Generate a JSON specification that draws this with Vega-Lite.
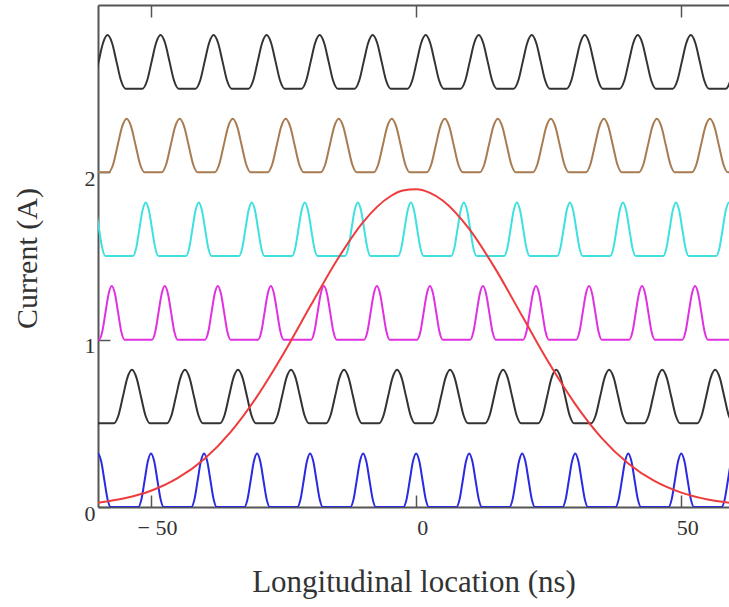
{
"$schema":"https://vega.github.io/schema/vega-lite/v6.json",
"width":631,"height":502,
"autosize":{"type":"none"},
"padding":{"left":98,"top":5,"right":0,"bottom":100},
"background":"white",
"config":{"view":{"stroke":null},"axis":{"labelFont":"Liberation Serif","titleFont":"Liberation Serif","grid":false,"labelColor":"#333","titleColor":"#333","domainColor":"#555","domainWidth":2,"tickColor":"#555","tickWidth":1.5}},
"data":{"values":[
{"s":"b","x":-62.4,"y":0},{"s":"b","x":-61.8,"y":0.047},{"s":"b","x":-61.2,"y":0.16},{"s":"b","x":-60.6,"y":0.273},{"s":"b","x":-60,"y":0.32},{"s":"b","x":-59.4,"y":0.273},{"s":"b","x":-58.8,"y":0.16},{"s":"b","x":-58.2,"y":0.047},{"s":"b","x":-57.6,"y":0},
{"s":"b","x":-52.4,"y":0},{"s":"b","x":-51.8,"y":0.047},{"s":"b","x":-51.2,"y":0.16},{"s":"b","x":-50.6,"y":0.273},{"s":"b","x":-50,"y":0.32},{"s":"b","x":-49.4,"y":0.273},{"s":"b","x":-48.8,"y":0.16},{"s":"b","x":-48.2,"y":0.047},{"s":"b","x":-47.6,"y":0},
{"s":"b","x":-42.4,"y":0},{"s":"b","x":-41.8,"y":0.047},{"s":"b","x":-41.2,"y":0.16},{"s":"b","x":-40.6,"y":0.273},{"s":"b","x":-40,"y":0.32},{"s":"b","x":-39.4,"y":0.273},{"s":"b","x":-38.8,"y":0.16},{"s":"b","x":-38.2,"y":0.047},{"s":"b","x":-37.6,"y":0},
{"s":"b","x":-32.4,"y":0},{"s":"b","x":-31.8,"y":0.047},{"s":"b","x":-31.2,"y":0.16},{"s":"b","x":-30.6,"y":0.273},{"s":"b","x":-30,"y":0.32},{"s":"b","x":-29.4,"y":0.273},{"s":"b","x":-28.8,"y":0.16},{"s":"b","x":-28.2,"y":0.047},{"s":"b","x":-27.6,"y":0},
{"s":"b","x":-22.4,"y":0},{"s":"b","x":-21.8,"y":0.047},{"s":"b","x":-21.2,"y":0.16},{"s":"b","x":-20.6,"y":0.273},{"s":"b","x":-20,"y":0.32},{"s":"b","x":-19.4,"y":0.273},{"s":"b","x":-18.8,"y":0.16},{"s":"b","x":-18.2,"y":0.047},{"s":"b","x":-17.6,"y":0},
{"s":"b","x":-12.4,"y":0},{"s":"b","x":-11.8,"y":0.047},{"s":"b","x":-11.2,"y":0.16},{"s":"b","x":-10.6,"y":0.273},{"s":"b","x":-10,"y":0.32},{"s":"b","x":-9.4,"y":0.273},{"s":"b","x":-8.8,"y":0.16},{"s":"b","x":-8.2,"y":0.047},{"s":"b","x":-7.6,"y":0},
{"s":"b","x":-2.4,"y":0},{"s":"b","x":-1.8,"y":0.047},{"s":"b","x":-1.2,"y":0.16},{"s":"b","x":-0.6,"y":0.273},{"s":"b","x":0,"y":0.32},{"s":"b","x":0.6,"y":0.273},{"s":"b","x":1.2,"y":0.16},{"s":"b","x":1.8,"y":0.047},{"s":"b","x":2.4,"y":0},
{"s":"b","x":7.6,"y":0},{"s":"b","x":8.2,"y":0.047},{"s":"b","x":8.8,"y":0.16},{"s":"b","x":9.4,"y":0.273},{"s":"b","x":10,"y":0.32},{"s":"b","x":10.6,"y":0.273},{"s":"b","x":11.2,"y":0.16},{"s":"b","x":11.8,"y":0.047},{"s":"b","x":12.4,"y":0},
{"s":"b","x":17.6,"y":0},{"s":"b","x":18.2,"y":0.047},{"s":"b","x":18.8,"y":0.16},{"s":"b","x":19.4,"y":0.273},{"s":"b","x":20,"y":0.32},{"s":"b","x":20.6,"y":0.273},{"s":"b","x":21.2,"y":0.16},{"s":"b","x":21.8,"y":0.047},{"s":"b","x":22.4,"y":0},
{"s":"b","x":27.6,"y":0},{"s":"b","x":28.2,"y":0.047},{"s":"b","x":28.8,"y":0.16},{"s":"b","x":29.4,"y":0.273},{"s":"b","x":30,"y":0.32},{"s":"b","x":30.6,"y":0.273},{"s":"b","x":31.2,"y":0.16},{"s":"b","x":31.8,"y":0.047},{"s":"b","x":32.4,"y":0},
{"s":"b","x":37.6,"y":0},{"s":"b","x":38.2,"y":0.047},{"s":"b","x":38.8,"y":0.16},{"s":"b","x":39.4,"y":0.273},{"s":"b","x":40,"y":0.32},{"s":"b","x":40.6,"y":0.273},{"s":"b","x":41.2,"y":0.16},{"s":"b","x":41.8,"y":0.047},{"s":"b","x":42.4,"y":0},
{"s":"b","x":47.6,"y":0},{"s":"b","x":48.2,"y":0.047},{"s":"b","x":48.8,"y":0.16},{"s":"b","x":49.4,"y":0.273},{"s":"b","x":50,"y":0.32},{"s":"b","x":50.6,"y":0.273},{"s":"b","x":51.2,"y":0.16},{"s":"b","x":51.8,"y":0.047},{"s":"b","x":52.4,"y":0},
{"s":"b","x":57.6,"y":0},{"s":"b","x":58.2,"y":0.047},{"s":"b","x":58.8,"y":0.16},{"s":"b","x":59.4,"y":0.273},{"s":"b","x":60,"y":0.32},{"s":"b","x":60.6,"y":0.273},{"s":"b","x":61.2,"y":0.16},{"s":"b","x":61.8,"y":0.047},{"s":"b","x":62.4,"y":0},

{"s":"k1","x":-60,"y":0.5},
{"s":"k1","x":-57,"y":0.5},{"s":"k1","x":-56.15,"y":0.547},{"s":"k1","x":-55.3,"y":0.66},{"s":"k1","x":-54.45,"y":0.773},{"s":"k1","x":-53.6,"y":0.82},{"s":"k1","x":-52.75,"y":0.773},{"s":"k1","x":-51.9,"y":0.66},{"s":"k1","x":-51.05,"y":0.547},{"s":"k1","x":-50.2,"y":0.5},
{"s":"k1","x":-47,"y":0.5},{"s":"k1","x":-46.15,"y":0.547},{"s":"k1","x":-45.3,"y":0.66},{"s":"k1","x":-44.45,"y":0.773},{"s":"k1","x":-43.6,"y":0.82},{"s":"k1","x":-42.75,"y":0.773},{"s":"k1","x":-41.9,"y":0.66},{"s":"k1","x":-41.05,"y":0.547},{"s":"k1","x":-40.2,"y":0.5},
{"s":"k1","x":-37,"y":0.5},{"s":"k1","x":-36.15,"y":0.547},{"s":"k1","x":-35.3,"y":0.66},{"s":"k1","x":-34.45,"y":0.773},{"s":"k1","x":-33.6,"y":0.82},{"s":"k1","x":-32.75,"y":0.773},{"s":"k1","x":-31.9,"y":0.66},{"s":"k1","x":-31.05,"y":0.547},{"s":"k1","x":-30.2,"y":0.5},
{"s":"k1","x":-27,"y":0.5},{"s":"k1","x":-26.15,"y":0.547},{"s":"k1","x":-25.3,"y":0.66},{"s":"k1","x":-24.45,"y":0.773},{"s":"k1","x":-23.6,"y":0.82},{"s":"k1","x":-22.75,"y":0.773},{"s":"k1","x":-21.9,"y":0.66},{"s":"k1","x":-21.05,"y":0.547},{"s":"k1","x":-20.2,"y":0.5},
{"s":"k1","x":-17,"y":0.5},{"s":"k1","x":-16.15,"y":0.547},{"s":"k1","x":-15.3,"y":0.66},{"s":"k1","x":-14.45,"y":0.773},{"s":"k1","x":-13.6,"y":0.82},{"s":"k1","x":-12.75,"y":0.773},{"s":"k1","x":-11.9,"y":0.66},{"s":"k1","x":-11.05,"y":0.547},{"s":"k1","x":-10.2,"y":0.5},
{"s":"k1","x":-7,"y":0.5},{"s":"k1","x":-6.15,"y":0.547},{"s":"k1","x":-5.3,"y":0.66},{"s":"k1","x":-4.45,"y":0.773},{"s":"k1","x":-3.6,"y":0.82},{"s":"k1","x":-2.75,"y":0.773},{"s":"k1","x":-1.9,"y":0.66},{"s":"k1","x":-1.05,"y":0.547},{"s":"k1","x":-0.2,"y":0.5},
{"s":"k1","x":3,"y":0.5},{"s":"k1","x":3.85,"y":0.547},{"s":"k1","x":4.7,"y":0.66},{"s":"k1","x":5.55,"y":0.773},{"s":"k1","x":6.4,"y":0.82},{"s":"k1","x":7.25,"y":0.773},{"s":"k1","x":8.1,"y":0.66},{"s":"k1","x":8.95,"y":0.547},{"s":"k1","x":9.8,"y":0.5},
{"s":"k1","x":13,"y":0.5},{"s":"k1","x":13.85,"y":0.547},{"s":"k1","x":14.7,"y":0.66},{"s":"k1","x":15.55,"y":0.773},{"s":"k1","x":16.4,"y":0.82},{"s":"k1","x":17.25,"y":0.773},{"s":"k1","x":18.1,"y":0.66},{"s":"k1","x":18.95,"y":0.547},{"s":"k1","x":19.8,"y":0.5},
{"s":"k1","x":23,"y":0.5},{"s":"k1","x":23.85,"y":0.547},{"s":"k1","x":24.7,"y":0.66},{"s":"k1","x":25.55,"y":0.773},{"s":"k1","x":26.4,"y":0.82},{"s":"k1","x":27.25,"y":0.773},{"s":"k1","x":28.1,"y":0.66},{"s":"k1","x":28.95,"y":0.547},{"s":"k1","x":29.8,"y":0.5},
{"s":"k1","x":33,"y":0.5},{"s":"k1","x":33.85,"y":0.547},{"s":"k1","x":34.7,"y":0.66},{"s":"k1","x":35.55,"y":0.773},{"s":"k1","x":36.4,"y":0.82},{"s":"k1","x":37.25,"y":0.773},{"s":"k1","x":38.1,"y":0.66},{"s":"k1","x":38.95,"y":0.547},{"s":"k1","x":39.8,"y":0.5},
{"s":"k1","x":43,"y":0.5},{"s":"k1","x":43.85,"y":0.547},{"s":"k1","x":44.7,"y":0.66},{"s":"k1","x":45.55,"y":0.773},{"s":"k1","x":46.4,"y":0.82},{"s":"k1","x":47.25,"y":0.773},{"s":"k1","x":48.1,"y":0.66},{"s":"k1","x":48.95,"y":0.547},{"s":"k1","x":49.8,"y":0.5},
{"s":"k1","x":53,"y":0.5},{"s":"k1","x":53.85,"y":0.547},{"s":"k1","x":54.7,"y":0.66},{"s":"k1","x":55.55,"y":0.773},{"s":"k1","x":56.4,"y":0.82},{"s":"k1","x":57.25,"y":0.773},{"s":"k1","x":58.1,"y":0.66},{"s":"k1","x":58.95,"y":0.547},{"s":"k1","x":59.8,"y":0.5},

{"s":"m","x":-60,"y":1},
{"s":"m","x":-59.8,"y":1},{"s":"m","x":-59.2,"y":1.047},{"s":"m","x":-58.6,"y":1.16},{"s":"m","x":-58,"y":1.273},{"s":"m","x":-57.4,"y":1.32},{"s":"m","x":-56.8,"y":1.273},{"s":"m","x":-56.2,"y":1.16},{"s":"m","x":-55.6,"y":1.047},{"s":"m","x":-55,"y":1},
{"s":"m","x":-49.8,"y":1},{"s":"m","x":-49.2,"y":1.047},{"s":"m","x":-48.6,"y":1.16},{"s":"m","x":-48,"y":1.273},{"s":"m","x":-47.4,"y":1.32},{"s":"m","x":-46.8,"y":1.273},{"s":"m","x":-46.2,"y":1.16},{"s":"m","x":-45.6,"y":1.047},{"s":"m","x":-45,"y":1},
{"s":"m","x":-39.8,"y":1},{"s":"m","x":-39.2,"y":1.047},{"s":"m","x":-38.6,"y":1.16},{"s":"m","x":-38,"y":1.273},{"s":"m","x":-37.4,"y":1.32},{"s":"m","x":-36.8,"y":1.273},{"s":"m","x":-36.2,"y":1.16},{"s":"m","x":-35.6,"y":1.047},{"s":"m","x":-35,"y":1},
{"s":"m","x":-29.8,"y":1},{"s":"m","x":-29.2,"y":1.047},{"s":"m","x":-28.6,"y":1.16},{"s":"m","x":-28,"y":1.273},{"s":"m","x":-27.4,"y":1.32},{"s":"m","x":-26.8,"y":1.273},{"s":"m","x":-26.2,"y":1.16},{"s":"m","x":-25.6,"y":1.047},{"s":"m","x":-25,"y":1},
{"s":"m","x":-19.8,"y":1},{"s":"m","x":-19.2,"y":1.047},{"s":"m","x":-18.6,"y":1.16},{"s":"m","x":-18,"y":1.273},{"s":"m","x":-17.4,"y":1.32},{"s":"m","x":-16.8,"y":1.273},{"s":"m","x":-16.2,"y":1.16},{"s":"m","x":-15.6,"y":1.047},{"s":"m","x":-15,"y":1},
{"s":"m","x":-9.8,"y":1},{"s":"m","x":-9.2,"y":1.047},{"s":"m","x":-8.6,"y":1.16},{"s":"m","x":-8,"y":1.273},{"s":"m","x":-7.4,"y":1.32},{"s":"m","x":-6.8,"y":1.273},{"s":"m","x":-6.2,"y":1.16},{"s":"m","x":-5.6,"y":1.047},{"s":"m","x":-5,"y":1},
{"s":"m","x":0.2,"y":1},{"s":"m","x":0.8,"y":1.047},{"s":"m","x":1.4,"y":1.16},{"s":"m","x":2,"y":1.273},{"s":"m","x":2.6,"y":1.32},{"s":"m","x":3.2,"y":1.273},{"s":"m","x":3.8,"y":1.16},{"s":"m","x":4.4,"y":1.047},{"s":"m","x":5,"y":1},
{"s":"m","x":10.2,"y":1},{"s":"m","x":10.8,"y":1.047},{"s":"m","x":11.4,"y":1.16},{"s":"m","x":12,"y":1.273},{"s":"m","x":12.6,"y":1.32},{"s":"m","x":13.2,"y":1.273},{"s":"m","x":13.8,"y":1.16},{"s":"m","x":14.4,"y":1.047},{"s":"m","x":15,"y":1},
{"s":"m","x":20.2,"y":1},{"s":"m","x":20.8,"y":1.047},{"s":"m","x":21.4,"y":1.16},{"s":"m","x":22,"y":1.273},{"s":"m","x":22.6,"y":1.32},{"s":"m","x":23.2,"y":1.273},{"s":"m","x":23.8,"y":1.16},{"s":"m","x":24.4,"y":1.047},{"s":"m","x":25,"y":1},
{"s":"m","x":30.2,"y":1},{"s":"m","x":30.8,"y":1.047},{"s":"m","x":31.4,"y":1.16},{"s":"m","x":32,"y":1.273},{"s":"m","x":32.6,"y":1.32},{"s":"m","x":33.2,"y":1.273},{"s":"m","x":33.8,"y":1.16},{"s":"m","x":34.4,"y":1.047},{"s":"m","x":35,"y":1},
{"s":"m","x":40.2,"y":1},{"s":"m","x":40.8,"y":1.047},{"s":"m","x":41.4,"y":1.16},{"s":"m","x":42,"y":1.273},{"s":"m","x":42.6,"y":1.32},{"s":"m","x":43.2,"y":1.273},{"s":"m","x":43.8,"y":1.16},{"s":"m","x":44.4,"y":1.047},{"s":"m","x":45,"y":1},
{"s":"m","x":50.2,"y":1},{"s":"m","x":50.8,"y":1.047},{"s":"m","x":51.4,"y":1.16},{"s":"m","x":52,"y":1.273},{"s":"m","x":52.6,"y":1.32},{"s":"m","x":53.2,"y":1.273},{"s":"m","x":53.8,"y":1.16},{"s":"m","x":54.4,"y":1.047},{"s":"m","x":55,"y":1},
{"s":"m","x":59,"y":1},

{"s":"c","x":-63.4,"y":1.5},{"s":"c","x":-62.8,"y":1.547},{"s":"c","x":-62.2,"y":1.66},{"s":"c","x":-61.6,"y":1.773},{"s":"c","x":-61,"y":1.82},{"s":"c","x":-60.4,"y":1.773},{"s":"c","x":-59.8,"y":1.66},{"s":"c","x":-59.2,"y":1.547},{"s":"c","x":-58.6,"y":1.5},
{"s":"c","x":-53.4,"y":1.5},{"s":"c","x":-52.8,"y":1.547},{"s":"c","x":-52.2,"y":1.66},{"s":"c","x":-51.6,"y":1.773},{"s":"c","x":-51,"y":1.82},{"s":"c","x":-50.4,"y":1.773},{"s":"c","x":-49.8,"y":1.66},{"s":"c","x":-49.2,"y":1.547},{"s":"c","x":-48.6,"y":1.5},
{"s":"c","x":-43.4,"y":1.5},{"s":"c","x":-42.8,"y":1.547},{"s":"c","x":-42.2,"y":1.66},{"s":"c","x":-41.6,"y":1.773},{"s":"c","x":-41,"y":1.82},{"s":"c","x":-40.4,"y":1.773},{"s":"c","x":-39.8,"y":1.66},{"s":"c","x":-39.2,"y":1.547},{"s":"c","x":-38.6,"y":1.5},
{"s":"c","x":-33.4,"y":1.5},{"s":"c","x":-32.8,"y":1.547},{"s":"c","x":-32.2,"y":1.66},{"s":"c","x":-31.6,"y":1.773},{"s":"c","x":-31,"y":1.82},{"s":"c","x":-30.4,"y":1.773},{"s":"c","x":-29.8,"y":1.66},{"s":"c","x":-29.2,"y":1.547},{"s":"c","x":-28.6,"y":1.5},
{"s":"c","x":-23.4,"y":1.5},{"s":"c","x":-22.8,"y":1.547},{"s":"c","x":-22.2,"y":1.66},{"s":"c","x":-21.6,"y":1.773},{"s":"c","x":-21,"y":1.82},{"s":"c","x":-20.4,"y":1.773},{"s":"c","x":-19.8,"y":1.66},{"s":"c","x":-19.2,"y":1.547},{"s":"c","x":-18.6,"y":1.5},
{"s":"c","x":-13.4,"y":1.5},{"s":"c","x":-12.8,"y":1.547},{"s":"c","x":-12.2,"y":1.66},{"s":"c","x":-11.6,"y":1.773},{"s":"c","x":-11,"y":1.82},{"s":"c","x":-10.4,"y":1.773},{"s":"c","x":-9.8,"y":1.66},{"s":"c","x":-9.2,"y":1.547},{"s":"c","x":-8.6,"y":1.5},
{"s":"c","x":-3.4,"y":1.5},{"s":"c","x":-2.8,"y":1.547},{"s":"c","x":-2.2,"y":1.66},{"s":"c","x":-1.6,"y":1.773},{"s":"c","x":-1,"y":1.82},{"s":"c","x":-0.4,"y":1.773},{"s":"c","x":0.2,"y":1.66},{"s":"c","x":0.8,"y":1.547},{"s":"c","x":1.4,"y":1.5},
{"s":"c","x":6.6,"y":1.5},{"s":"c","x":7.2,"y":1.547},{"s":"c","x":7.8,"y":1.66},{"s":"c","x":8.4,"y":1.773},{"s":"c","x":9,"y":1.82},{"s":"c","x":9.6,"y":1.773},{"s":"c","x":10.2,"y":1.66},{"s":"c","x":10.8,"y":1.547},{"s":"c","x":11.4,"y":1.5},
{"s":"c","x":16.6,"y":1.5},{"s":"c","x":17.2,"y":1.547},{"s":"c","x":17.8,"y":1.66},{"s":"c","x":18.4,"y":1.773},{"s":"c","x":19,"y":1.82},{"s":"c","x":19.6,"y":1.773},{"s":"c","x":20.2,"y":1.66},{"s":"c","x":20.8,"y":1.547},{"s":"c","x":21.4,"y":1.5},
{"s":"c","x":26.6,"y":1.5},{"s":"c","x":27.2,"y":1.547},{"s":"c","x":27.8,"y":1.66},{"s":"c","x":28.4,"y":1.773},{"s":"c","x":29,"y":1.82},{"s":"c","x":29.6,"y":1.773},{"s":"c","x":30.2,"y":1.66},{"s":"c","x":30.8,"y":1.547},{"s":"c","x":31.4,"y":1.5},
{"s":"c","x":36.6,"y":1.5},{"s":"c","x":37.2,"y":1.547},{"s":"c","x":37.8,"y":1.66},{"s":"c","x":38.4,"y":1.773},{"s":"c","x":39,"y":1.82},{"s":"c","x":39.6,"y":1.773},{"s":"c","x":40.2,"y":1.66},{"s":"c","x":40.8,"y":1.547},{"s":"c","x":41.4,"y":1.5},
{"s":"c","x":46.6,"y":1.5},{"s":"c","x":47.2,"y":1.547},{"s":"c","x":47.8,"y":1.66},{"s":"c","x":48.4,"y":1.773},{"s":"c","x":49,"y":1.82},{"s":"c","x":49.6,"y":1.773},{"s":"c","x":50.2,"y":1.66},{"s":"c","x":50.8,"y":1.547},{"s":"c","x":51.4,"y":1.5},
{"s":"c","x":56.6,"y":1.5},{"s":"c","x":57.2,"y":1.547},{"s":"c","x":57.8,"y":1.66},{"s":"c","x":58.4,"y":1.773},{"s":"c","x":59,"y":1.82},{"s":"c","x":59.6,"y":1.773},{"s":"c","x":60.2,"y":1.66},{"s":"c","x":60.8,"y":1.547},{"s":"c","x":61.4,"y":1.5},

{"s":"br","x":-60,"y":2},
{"s":"br","x":-58,"y":2},{"s":"br","x":-57.15,"y":2.047},{"s":"br","x":-56.3,"y":2.16},{"s":"br","x":-55.45,"y":2.273},{"s":"br","x":-54.6,"y":2.32},{"s":"br","x":-53.75,"y":2.273},{"s":"br","x":-52.9,"y":2.16},{"s":"br","x":-52.05,"y":2.047},{"s":"br","x":-51.2,"y":2},
{"s":"br","x":-48,"y":2},{"s":"br","x":-47.15,"y":2.047},{"s":"br","x":-46.3,"y":2.16},{"s":"br","x":-45.45,"y":2.273},{"s":"br","x":-44.6,"y":2.32},{"s":"br","x":-43.75,"y":2.273},{"s":"br","x":-42.9,"y":2.16},{"s":"br","x":-42.05,"y":2.047},{"s":"br","x":-41.2,"y":2},
{"s":"br","x":-38,"y":2},{"s":"br","x":-37.15,"y":2.047},{"s":"br","x":-36.3,"y":2.16},{"s":"br","x":-35.45,"y":2.273},{"s":"br","x":-34.6,"y":2.32},{"s":"br","x":-33.75,"y":2.273},{"s":"br","x":-32.9,"y":2.16},{"s":"br","x":-32.05,"y":2.047},{"s":"br","x":-31.2,"y":2},
{"s":"br","x":-28,"y":2},{"s":"br","x":-27.15,"y":2.047},{"s":"br","x":-26.3,"y":2.16},{"s":"br","x":-25.45,"y":2.273},{"s":"br","x":-24.6,"y":2.32},{"s":"br","x":-23.75,"y":2.273},{"s":"br","x":-22.9,"y":2.16},{"s":"br","x":-22.05,"y":2.047},{"s":"br","x":-21.2,"y":2},
{"s":"br","x":-18,"y":2},{"s":"br","x":-17.15,"y":2.047},{"s":"br","x":-16.3,"y":2.16},{"s":"br","x":-15.45,"y":2.273},{"s":"br","x":-14.6,"y":2.32},{"s":"br","x":-13.75,"y":2.273},{"s":"br","x":-12.9,"y":2.16},{"s":"br","x":-12.05,"y":2.047},{"s":"br","x":-11.2,"y":2},
{"s":"br","x":-8,"y":2},{"s":"br","x":-7.15,"y":2.047},{"s":"br","x":-6.3,"y":2.16},{"s":"br","x":-5.45,"y":2.273},{"s":"br","x":-4.6,"y":2.32},{"s":"br","x":-3.75,"y":2.273},{"s":"br","x":-2.9,"y":2.16},{"s":"br","x":-2.05,"y":2.047},{"s":"br","x":-1.2,"y":2},
{"s":"br","x":2,"y":2},{"s":"br","x":2.85,"y":2.047},{"s":"br","x":3.7,"y":2.16},{"s":"br","x":4.55,"y":2.273},{"s":"br","x":5.4,"y":2.32},{"s":"br","x":6.25,"y":2.273},{"s":"br","x":7.1,"y":2.16},{"s":"br","x":7.95,"y":2.047},{"s":"br","x":8.8,"y":2},
{"s":"br","x":12,"y":2},{"s":"br","x":12.85,"y":2.047},{"s":"br","x":13.7,"y":2.16},{"s":"br","x":14.55,"y":2.273},{"s":"br","x":15.4,"y":2.32},{"s":"br","x":16.25,"y":2.273},{"s":"br","x":17.1,"y":2.16},{"s":"br","x":17.95,"y":2.047},{"s":"br","x":18.8,"y":2},
{"s":"br","x":22,"y":2},{"s":"br","x":22.85,"y":2.047},{"s":"br","x":23.7,"y":2.16},{"s":"br","x":24.55,"y":2.273},{"s":"br","x":25.4,"y":2.32},{"s":"br","x":26.25,"y":2.273},{"s":"br","x":27.1,"y":2.16},{"s":"br","x":27.95,"y":2.047},{"s":"br","x":28.8,"y":2},
{"s":"br","x":32,"y":2},{"s":"br","x":32.85,"y":2.047},{"s":"br","x":33.7,"y":2.16},{"s":"br","x":34.55,"y":2.273},{"s":"br","x":35.4,"y":2.32},{"s":"br","x":36.25,"y":2.273},{"s":"br","x":37.1,"y":2.16},{"s":"br","x":37.95,"y":2.047},{"s":"br","x":38.8,"y":2},
{"s":"br","x":42,"y":2},{"s":"br","x":42.85,"y":2.047},{"s":"br","x":43.7,"y":2.16},{"s":"br","x":44.55,"y":2.273},{"s":"br","x":45.4,"y":2.32},{"s":"br","x":46.25,"y":2.273},{"s":"br","x":47.1,"y":2.16},{"s":"br","x":47.95,"y":2.047},{"s":"br","x":48.8,"y":2},
{"s":"br","x":52,"y":2},{"s":"br","x":52.85,"y":2.047},{"s":"br","x":53.7,"y":2.16},{"s":"br","x":54.55,"y":2.273},{"s":"br","x":55.4,"y":2.32},{"s":"br","x":56.25,"y":2.273},{"s":"br","x":57.1,"y":2.16},{"s":"br","x":57.95,"y":2.047},{"s":"br","x":58.8,"y":2},
{"s":"br","x":59,"y":2},

{"s":"k2","x":-61.6,"y":2.5},{"s":"k2","x":-60.75,"y":2.547},{"s":"k2","x":-59.9,"y":2.66},{"s":"k2","x":-59.05,"y":2.773},{"s":"k2","x":-58.2,"y":2.82},{"s":"k2","x":-57.35,"y":2.773},{"s":"k2","x":-56.5,"y":2.66},{"s":"k2","x":-55.65,"y":2.547},{"s":"k2","x":-54.8,"y":2.5},
{"s":"k2","x":-51.6,"y":2.5},{"s":"k2","x":-50.75,"y":2.547},{"s":"k2","x":-49.9,"y":2.66},{"s":"k2","x":-49.05,"y":2.773},{"s":"k2","x":-48.2,"y":2.82},{"s":"k2","x":-47.35,"y":2.773},{"s":"k2","x":-46.5,"y":2.66},{"s":"k2","x":-45.65,"y":2.547},{"s":"k2","x":-44.8,"y":2.5},
{"s":"k2","x":-41.6,"y":2.5},{"s":"k2","x":-40.75,"y":2.547},{"s":"k2","x":-39.9,"y":2.66},{"s":"k2","x":-39.05,"y":2.773},{"s":"k2","x":-38.2,"y":2.82},{"s":"k2","x":-37.35,"y":2.773},{"s":"k2","x":-36.5,"y":2.66},{"s":"k2","x":-35.65,"y":2.547},{"s":"k2","x":-34.8,"y":2.5},
{"s":"k2","x":-31.6,"y":2.5},{"s":"k2","x":-30.75,"y":2.547},{"s":"k2","x":-29.9,"y":2.66},{"s":"k2","x":-29.05,"y":2.773},{"s":"k2","x":-28.2,"y":2.82},{"s":"k2","x":-27.35,"y":2.773},{"s":"k2","x":-26.5,"y":2.66},{"s":"k2","x":-25.65,"y":2.547},{"s":"k2","x":-24.8,"y":2.5},
{"s":"k2","x":-21.6,"y":2.5},{"s":"k2","x":-20.75,"y":2.547},{"s":"k2","x":-19.9,"y":2.66},{"s":"k2","x":-19.05,"y":2.773},{"s":"k2","x":-18.2,"y":2.82},{"s":"k2","x":-17.35,"y":2.773},{"s":"k2","x":-16.5,"y":2.66},{"s":"k2","x":-15.65,"y":2.547},{"s":"k2","x":-14.8,"y":2.5},
{"s":"k2","x":-11.6,"y":2.5},{"s":"k2","x":-10.75,"y":2.547},{"s":"k2","x":-9.9,"y":2.66},{"s":"k2","x":-9.05,"y":2.773},{"s":"k2","x":-8.2,"y":2.82},{"s":"k2","x":-7.35,"y":2.773},{"s":"k2","x":-6.5,"y":2.66},{"s":"k2","x":-5.65,"y":2.547},{"s":"k2","x":-4.8,"y":2.5},
{"s":"k2","x":-1.6,"y":2.5},{"s":"k2","x":-0.75,"y":2.547},{"s":"k2","x":0.1,"y":2.66},{"s":"k2","x":0.95,"y":2.773},{"s":"k2","x":1.8,"y":2.82},{"s":"k2","x":2.65,"y":2.773},{"s":"k2","x":3.5,"y":2.66},{"s":"k2","x":4.35,"y":2.547},{"s":"k2","x":5.2,"y":2.5},
{"s":"k2","x":8.4,"y":2.5},{"s":"k2","x":9.25,"y":2.547},{"s":"k2","x":10.1,"y":2.66},{"s":"k2","x":10.95,"y":2.773},{"s":"k2","x":11.8,"y":2.82},{"s":"k2","x":12.65,"y":2.773},{"s":"k2","x":13.5,"y":2.66},{"s":"k2","x":14.35,"y":2.547},{"s":"k2","x":15.2,"y":2.5},
{"s":"k2","x":18.4,"y":2.5},{"s":"k2","x":19.25,"y":2.547},{"s":"k2","x":20.1,"y":2.66},{"s":"k2","x":20.95,"y":2.773},{"s":"k2","x":21.8,"y":2.82},{"s":"k2","x":22.65,"y":2.773},{"s":"k2","x":23.5,"y":2.66},{"s":"k2","x":24.35,"y":2.547},{"s":"k2","x":25.2,"y":2.5},
{"s":"k2","x":28.4,"y":2.5},{"s":"k2","x":29.25,"y":2.547},{"s":"k2","x":30.1,"y":2.66},{"s":"k2","x":30.95,"y":2.773},{"s":"k2","x":31.8,"y":2.82},{"s":"k2","x":32.65,"y":2.773},{"s":"k2","x":33.5,"y":2.66},{"s":"k2","x":34.35,"y":2.547},{"s":"k2","x":35.2,"y":2.5},
{"s":"k2","x":38.4,"y":2.5},{"s":"k2","x":39.25,"y":2.547},{"s":"k2","x":40.1,"y":2.66},{"s":"k2","x":40.95,"y":2.773},{"s":"k2","x":41.8,"y":2.82},{"s":"k2","x":42.65,"y":2.773},{"s":"k2","x":43.5,"y":2.66},{"s":"k2","x":44.35,"y":2.547},{"s":"k2","x":45.2,"y":2.5},
{"s":"k2","x":48.4,"y":2.5},{"s":"k2","x":49.25,"y":2.547},{"s":"k2","x":50.1,"y":2.66},{"s":"k2","x":50.95,"y":2.773},{"s":"k2","x":51.8,"y":2.82},{"s":"k2","x":52.65,"y":2.773},{"s":"k2","x":53.5,"y":2.66},{"s":"k2","x":54.35,"y":2.547},{"s":"k2","x":55.2,"y":2.5},
{"s":"k2","x":58.4,"y":2.5},{"s":"k2","x":59.25,"y":2.547},{"s":"k2","x":60.1,"y":2.66},{"s":"k2","x":60.95,"y":2.773},{"s":"k2","x":61.8,"y":2.82},

{"s":"r","x":-60,"y":0.026},{"s":"r","x":-55,"y":0.052},{"s":"r","x":-50,"y":0.097},{"s":"r","x":-45,"y":0.172},{"s":"r","x":-40,"y":0.286},{"s":"r","x":-35,"y":0.448},{"s":"r","x":-30,"y":0.661},{"s":"r","x":-25,"y":0.917},{"s":"r","x":-20,"y":1.198},{"s":"r","x":-15,"y":1.472},{"s":"r","x":-10,"y":1.703},{"s":"r","x":-5,"y":1.854},{"s":"r","x":-2.5,"y":1.891},{"s":"r","x":0,"y":1.899},{"s":"r","x":2.5,"y":1.879},{"s":"r","x":5,"y":1.832},{"s":"r","x":10,"y":1.662},{"s":"r","x":15,"y":1.42},{"s":"r","x":20,"y":1.141},{"s":"r","x":25,"y":0.863},{"s":"r","x":30,"y":0.615},{"s":"r","x":35,"y":0.412},{"s":"r","x":40,"y":0.26},{"s":"r","x":45,"y":0.154},{"s":"r","x":50,"y":0.086},{"s":"r","x":55,"y":0.045},{"s":"r","x":59,"y":0.026}
]},
"layer":[
{"transform":[{"filter":"datum.s != 'r'"}],
 "mark":{"type":"line","interpolate":"monotone","clip":true,"strokeWidth":2},
 "encoding":{
  "x":{"field":"x","type":"quantitative","scale":{"domain":[-60,59],"nice":false,"zero":false},
       "axis":{"orient":"bottom","values":[-50,0,50],"tickSize":-12,"labelPadding":22,"labelFontSize":22,"labelOffset":6,"labelExpr":"datum.value < 0 ? '\u2212 ' + format(-datum.value, 'd') : format(datum.value, 'd')","title":"Longitudinal location (ns)","titleFontSize":31,"titleFontWeight":"normal","titleBaseline":"alphabetic","titleY":84}},
  "y":{"field":"y","type":"quantitative","scale":{"domain":[0,3],"nice":false,"zero":false},
       "axis":{"orient":"left","values":[0,1,2],"format":"d","tickSize":-12,"labelPadding":15,"labelFontSize":22,"labelOffset":6,"title":"Current (A)","titleFontSize":30,"titleFontWeight":"normal","titleAngle":-90,"titleBaseline":"alphabetic","titleAlign":"center","titleX":-62,"titleY":253}},
  "color":{"field":"s","type":"nominal","scale":{"domain":["b","k1","m","c","br","k2","r"],"range":["#2a2ae0","#333333","#e030e0","#3ee0e0","#a87b50","#333333","#ee3b3b"]},"legend":null}
 }},
{"transform":[{"filter":"datum.s == 'r'"}],
 "mark":{"type":"line","interpolate":"monotone","clip":true,"strokeWidth":2,"color":"#ee3b3b"},
 "encoding":{
  "x":{"field":"x","type":"quantitative","axis":{"orient":"top","values":[-50,0,50],"tickSize":-12,"labels":false,"title":null}},
  "y":{"field":"y","type":"quantitative"}
 }}
],
"resolve":{"axis":{"x":"independent"}}
}
